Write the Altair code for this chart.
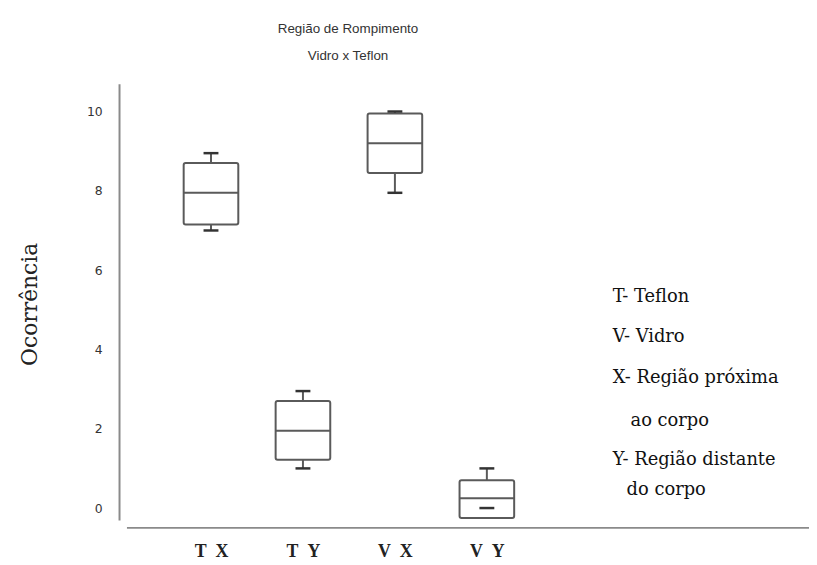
import json
import altair as alt
import pandas as pd

# ---- data ----
categories = ["T X", "T Y", "V X", "V Y"]
mins = [7.0, 1.0, 7.95, 0.0]
q1s = [7.15, 1.22, 8.45, -0.25]
medians = [7.95, 1.95, 9.2, 0.25]
q3s = [8.7, 2.7, 9.95, 0.7]
maxs = [8.95, 2.95, 10.0, 1.0]
y_ticks = [0, 2, 4, 6, 8, 10]
title_lines = ["Região de Rompimento", "Vidro x Teflon"]
legend_lines = ["T- Teflon", "V- Vidro", "X- Região próxima", "ao corpo",
                "Y- Região distante", "do corpo"]
y_title = "Ocorrência"

# ---- layout ----
W, H = 692, 440
BOX_HALF = 0.297
CAP_HALF = 0.081
STROKE = "#5a5a5a"

df = pd.DataFrame({
    "cat": categories,
    "pos": list(range(1, len(categories) + 1)),
    "min": mins, "q1": q1s, "median": medians, "q3": q3s, "max": maxs,
})
df["box_l"] = df["pos"] - BOX_HALF
df["box_r"] = df["pos"] + BOX_HALF
df["cap_l"] = df["pos"] - CAP_HALF
df["cap_r"] = df["pos"] + CAP_HALF
df["lo"] = df[["min", "q1"]].min(axis=1)

spaced = [c.replace(" ", "\u00a0\u00a0") for c in categories]
label_expr = "%s[datum.value]" % json.dumps([""] + spaced)

xscale = alt.Scale(domain=[0, 7.46], nice=False, zero=False)
yscale = alt.Scale(domain=[-0.3, 10.7], nice=False, zero=False)

xaxis = alt.Axis(values=list(range(1, len(categories) + 1)), labelExpr=label_expr,
                 domain=False, ticks=False, grid=False, title=None,
                 labelFont="Liberation Serif", labelFontWeight="bold",
                 labelFontSize=18, labelColor="#222222", labelPadding=23)
yaxis = alt.Axis(values=y_ticks, domain=True, domainColor="#8a8a8a", domainWidth=2,
                 ticks=False, grid=False, labelFont="DejaVu Sans",
                 labelFontSize=12.5, labelColor="#333333", labelPadding=17,
                 title=y_title, titleFont="DejaVu Serif", titleFontSize=22,
                 titleFontWeight="normal", titleColor="#222222",
                 titleX=-90, titleY=222, titleAngle=270, titleAlign="center",
                 titleBaseline="middle")

base = alt.Chart(df)

x_pos = alt.X("pos:Q", scale=xscale, axis=xaxis)

whisk_up = base.mark_rule(color=STROKE, strokeWidth=2).encode(
    x=x_pos, y=alt.Y("q3:Q", scale=yscale, axis=yaxis), y2="max:Q")
whisk_lo = base.mark_rule(color=STROKE, strokeWidth=2).encode(
    x="pos:Q", y="lo:Q", y2="q1:Q")
box = base.mark_bar(fill="white", stroke=STROKE, strokeWidth=2, cornerRadius=2).encode(
    x="box_l:Q", x2="box_r:Q", y="q1:Q", y2="q3:Q")
med = base.mark_rule(color=STROKE, strokeWidth=2).encode(
    x="box_l:Q", x2="box_r:Q", y="median:Q")
cap_top = base.mark_rule(color="#333333", strokeWidth=2.5).encode(
    x="cap_l:Q", x2="cap_r:Q", y="max:Q")
cap_bot = base.mark_rule(color="#333333", strokeWidth=2.5).encode(
    x="cap_l:Q", x2="cap_r:Q", y="min:Q")

x_line = alt.Chart(pd.DataFrame({"k": [0]})).mark_rule(
    color="#8a8a8a", strokeWidth=2).encode(
    x=alt.value(8), x2=alt.value(W + 4), y=alt.value(H + 8))

legend_x = [498, 498, 498, 516, 498, 512]
legend_y = [215, 255, 297, 340, 380, 410]
legend_layers = []
for line, lx, ly in zip(legend_lines, legend_x, legend_y):
    legend_layers.append(
        alt.Chart(pd.DataFrame({"t": [line]})).mark_text(
            font="DejaVu Serif", fontSize=18, color="#111111",
            align="left", baseline="middle").encode(
            x=alt.value(lx), y=alt.value(ly), text="t:N"))

chart = alt.layer(whisk_up, whisk_lo, box, med, cap_top, cap_bot, x_line,
                  *legend_layers).properties(
    width=W, height=H,
    autosize=alt.AutoSizeParams(type="none"),
    padding={"left": 112, "top": 74, "right": 4, "bottom": 40},
    title=alt.TitleParams(title_lines, font="Liberation Sans", fontSize=13.5,
                          fontWeight="normal", color="#333333", lineHeight=28,
                          anchor="middle", dx=-115, offset=21),
).configure_view(stroke=None)

chart.save("out.html", embed_options={"renderer": "svg", "actions": False})
